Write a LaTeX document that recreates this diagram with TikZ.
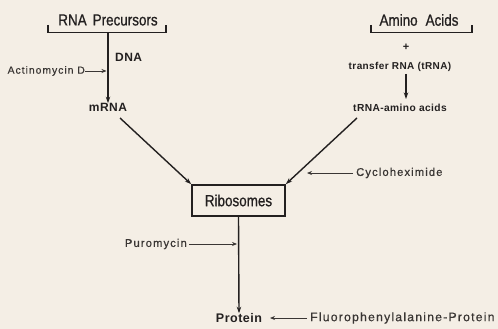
\documentclass[tikz,border=0pt]{standalone}
\usepackage{fontspec}
\setmainfont{Liberation Sans}
\newfontfamily\condfont[FakeStretch=0.84,FakeBold=0.8]{Liberation Sans}
\newfontfamily\smallfont[LetterSpace=10,FakeBold=0.6]{Liberation Sans}
\newfontfamily\boldfont[LetterSpace=4]{Liberation Sans Bold}
\usetikzlibrary{arrows.meta}
\definecolor{paper}{HTML}{F4EEE5}
\definecolor{ink}{HTML}{232020}
\definecolor{inksoft}{HTML}{3A3634}
\begin{document}
\begin{tikzpicture}[x=1pt,y=-1pt,
  ink/.style={draw=ink,line width=1.4pt},
  arr/.style={ink,-{Stealth[length=6.5pt,width=4.5pt]}},
  thinarr/.style={draw=inksoft,line width=0.8pt,-{Stealth[length=5pt,width=4pt]}},
  head/.style={inner sep=0pt,text=ink,font=\condfont\fontsize{16}{16}\selectfont},
  lab/.style={inner sep=0pt,text=ink,font=\boldfont\fontsize{10.5}{11}\selectfont},
  sm/.style={inner sep=0pt,text=inksoft,font=\smallfont\fontsize{11.2}{12}\selectfont}]
\fill[paper] (0,0) rectangle (498,329);
\useasboundingbox (0,0) rectangle (498,329);
% RNA precursors
\node[head] (rnap) at (108,20) {RNA\hspace{6pt}Precursors};
\draw[ink,line width=1.6pt] (48,25) -- (48,32.5) -- (166,32.5) -- (166,25);
\coordinate (rnab) at (108,33);
\node[lab,anchor=west,font=\boldfont\fontsize{12}{12}\selectfont] (dna) at (115,57) {DNA};
\node[lab,font=\boldfont\fontsize{12}{12}\selectfont] (mrna) at (108,107.5) {mRNA};
\draw[arr] (rnab) -- (mrna.north);
\node[sm,anchor=east,font=\smallfont\fontsize{10.3}{11}\selectfont] (act) at (85,71) {Actinomycin D};
\coordinate (actend) at (106.5,71);
\draw[thinarr] (act.east) -- (actend);
% Amino acids
\node[head] (aa) at (419,20) {Amino\hspace{8pt}Acids};
\draw[ink,line width=1.6pt] (371,25) -- (371,32.5) -- (472,32.5) -- (472,25);
\node[lab,font=\boldfont\fontsize{11}{11}\selectfont] (plus) at (406,47) {+};
\node[lab,font=\boldfont\fontsize{10}{11}\selectfont] (trna) at (400,67) {transfer RNA (tRNA)};
\node[lab,font=\boldfont\fontsize{10.2}{11}\selectfont] (trnaaa) at (400,108) {tRNA-amino acids};
\draw[arr] (406,74) -- (406,99);
% Ribosomes
\node[draw=ink,line width=1.7pt,minimum width=93pt,minimum height=31pt,inner sep=0pt,
  text=ink,font=\condfont\fontsize{16}{16}\selectfont] (ribo) at (238.5,200.5) {Ribosomes};
\draw[arr] (120,118) -- (ribo.north west);
\draw[arr] (357,118) -- (ribo.north east);
\node[sm,anchor=west] (cyclo) at (356,173) {Cycloheximide};
\coordinate (cycend) at (307,173);
\draw[thinarr] ([xshift=-3pt]cyclo.west) -- (cycend);
% Protein
\node[lab,font=\boldfont\fontsize{12.5}{13}\selectfont] (prot) at (239,318) {Protein};
\draw[arr] (ribo.south) -- (prot.north);
\node[sm,anchor=east] (puro) at (187,244) {Puromycin};
\coordinate (puroend) at (237,244);
\draw[thinarr] ([xshift=2pt]puro.east) -- (puroend);
\node[sm,anchor=west,font=\smallfont\fontsize{12.2}{13}\selectfont] (fluoro) at (310,318) {Fluorophenylalanine-Protein};
\coordinate (fluend) at (270,318);
\draw[thinarr] ([xshift=-3pt]fluoro.west) -- (fluend);
\end{tikzpicture}
\end{document}
